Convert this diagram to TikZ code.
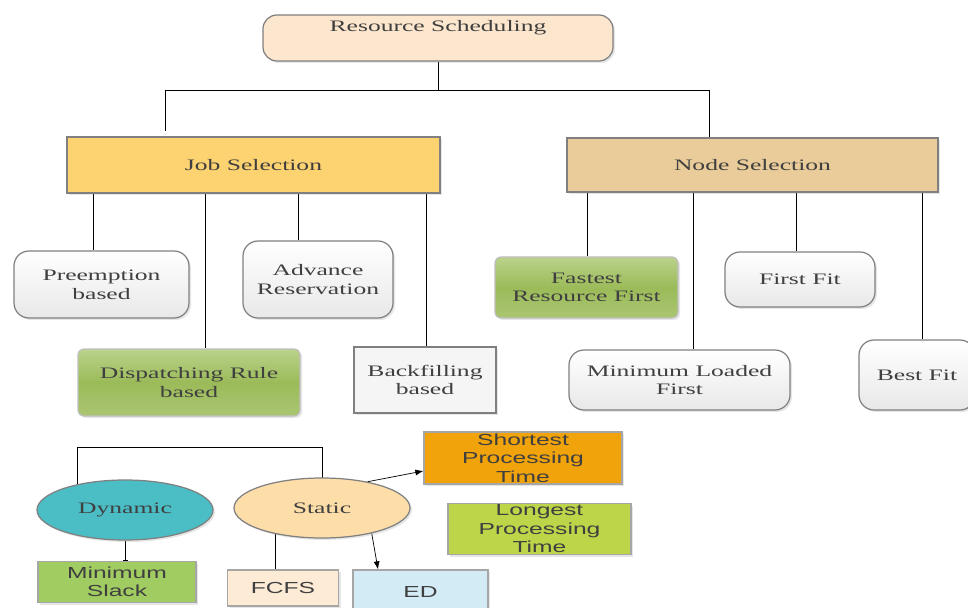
\documentclass[tikz,border=0pt]{standalone}
\usepackage{fontspec}
\setmainfont[FakeStretch=1.6]{Liberation Serif}
\setsansfont[FakeStretch=1.54]{Liberation Sans}
\usetikzlibrary{arrows.meta,shapes.geometric,shadows,backgrounds}
\definecolor{ink}{HTML}{3F3F3F}
\definecolor{rsfill}{HTML}{FCE6CD}
\definecolor{jobfill}{HTML}{FDD270}
\definecolor{nodefill}{HTML}{E9CC99}
\definecolor{dynfill}{HTML}{4BBDC4}
\definecolor{statfill}{HTML}{FDDEA9}
\definecolor{sptfill}{HTML}{F0A30A}
\definecolor{lptfill}{HTML}{BDD549}
\definecolor{msfill}{HTML}{A1CC62}
\definecolor{fcfsfill}{HTML}{FDEBD6}
\definecolor{edfill}{HTML}{D2EBF5}
\definecolor{grlight}{HTML}{C8DCA0}
\definecolor{grdark}{HTML}{9BBB59}
\tikzset{
	boxsize/.style 2 args={minimum width=#1*0.02cm,minimum height=#2*0.02cm},
	lifted/.style={drop shadow={opacity=0.2,shadow xshift=0.04cm,shadow yshift=-0.04cm}},
	base/.style={draw=black!50,line width=0.7pt,text=ink,align=center,inner sep=0pt,lifted,font=\fontsize{9.1}{10.6}\selectfont},
	soft/.style={base,rounded corners=0.3cm,top color=white,bottom color=black!9},
	glossy/.style={base,rounded corners=0.12cm,draw=black!25,top color=grlight!70!grdark,bottom color=grdark!85!white,middle color=grdark},
	plain/.style={draw=black!35,line width=0.7pt,text=ink,align=center,inner sep=0pt,lifted,font=\sffamily\fontsize{9.1}{10.5}\selectfont},
	link/.style={line width=0.8pt},
	tip/.style={-{Latex[length=0.16cm,width=0.12cm]}}
}
\begin{document}
\begin{tikzpicture}[x=0.02cm,y=-0.02cm]
	\useasboundingbox (0,0) rectangle (968,608);
	\node[base,rounded corners=0.28cm,boxsize={350}{46},fill=rsfill,text depth=0.5cm] (rs) at (438,38) {Resource Scheduling};
	\node[base,boxsize={373}{56},fill=jobfill] (job) at (253.5,165) {Job Selection};
	\node[base,boxsize={371}{54},fill=nodefill] (nsel) at (752.5,165) {Node Selection};
	\node[soft,boxsize={175}{67}] (pre) at (101.5,284.5) {Preemption\\based};
	\node[soft,boxsize={150}{77}] (adv) at (318,279.5) {Advance\\Reservation};
	\node[glossy,boxsize={222}{67}] (disp) at (189,382.5) {Dispatching Rule\\based};
	\node[base,boxsize={142}{66},fill=black!4] (back) at (425,380) {Backfilling\\based};
	\node[glossy,boxsize={183}{61}] (fast) at (586.5,287.5) {Fastest\\Resource First};
	\node[soft,boxsize={150}{55}] (ff) at (800,279.5) {First Fit};
	\node[soft,boxsize={221}{60}] (mlf) at (679.5,380) {Minimum Loaded\\First};
	\node[soft,boxsize={116}{70}] (bf) at (917,375) {Best Fit};
	\node[base,ellipse,boxsize={176}{60},fill=dynfill] (dyn) at (125,510) {Dynamic};
	\node[base,ellipse,boxsize={176}{60},fill=statfill] (stat) at (322,508) {Static};
	\node[plain,boxsize={198}{52},fill=sptfill] (spt) at (523,458) {Shortest\\Processing\\Time};
	\node[plain,boxsize={183}{51},fill=lptfill] (lpt) at (539.5,529) {Longest\\Processing\\Time};
	\node[plain,boxsize={158}{41},fill=msfill] (ms) at (117,582) {Minimum\\Slack};
	\node[plain,boxsize={111}{36},fill=fcfsfill] (fcfs) at (283,588) {FCFS};
	\node[plain,boxsize={135}{44},fill=edfill] (ed) at (420.5,592) {ED};
	\begin{scope}[on background layer,link]
		\coordinate (hub) at (438,90);
		\coordinate (jl) at (165,90);
		\coordinate (nr) at (709,90);
		\draw (rs) -- (hub);
		\draw (jl) -- (nr);
		\draw[shorten >=0.1cm] (jl) -- (jl |- job.north);
		\draw (nr) -- (nr |- nsel.north);
		\foreach \p/\x/\c in {job/93/pre,job/205/disp,job/298/adv,job/426/back,nsel/587/fast,nsel/693/mlf,nsel/796/ff,nsel/922/bf}{
			\coordinate (top) at (\x,0);
			\draw (\p.south -| top) -- (top |- \c.north);
		}
		\coordinate (dl) at (77,447);
		\coordinate (fc) at (275,0);
		\draw (dl |- dyn.center) -- (dl) -| (stat.center);
		\draw[-{Bar[width=0.1cm]}] (dyn.south) -- (dyn.south |- ms.north);
		\draw (fc |- stat.center) -- (fc |- fcfs.north);
		\draw[tip] (stat.30) -- ([yshift=-0.26cm]spt.west);
		\draw[tip] (stat.-27) -- ([xshift=-0.85cm]ed.north);
	\end{scope}
\end{tikzpicture}
\end{document}
